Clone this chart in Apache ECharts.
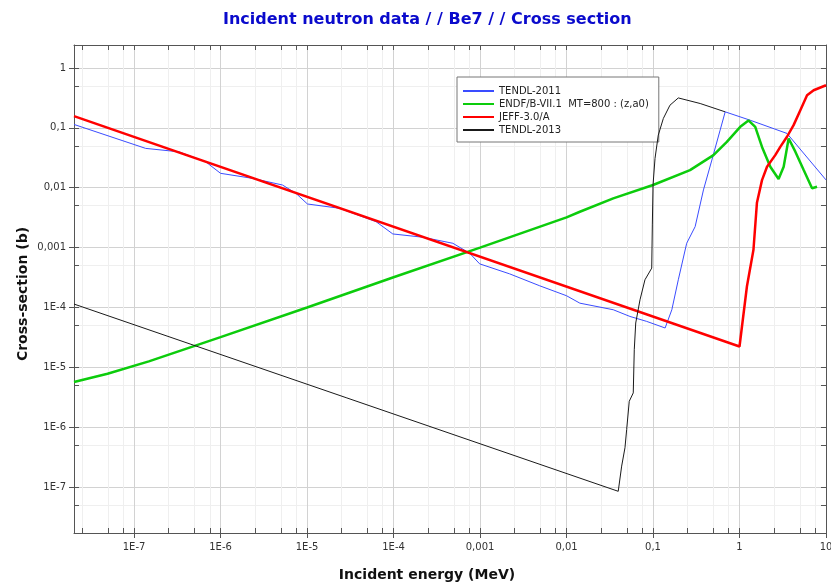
<!DOCTYPE html>
<html>
<head>
<meta charset="utf-8">
<script src="https://cdn.jsdelivr.net/npm/echarts@6/dist/echarts.min.js"></script>
<style>
  html, body { margin: 0; padding: 0; background: #ffffff; }
  #chart { width: 831px; height: 582px; }
</style>
</head>
<body>
<div id="chart"></div>
<script>
// Be-7 incident-neutron cross sections, energy in MeV, cross section in barns.

// TENDL-2011
const tendl2011E = [2.02e-8, 1.36e-7, 3.3e-7, 6.73e-7, 1.0e-6, 2.33e-6, 5.2e-6, 7.43e-6, 1.01e-5, 2.36e-5,
  6.28e-5, 9.8e-5, 2.18e-4, 4.85e-4, 7.58e-4, 9.9e-4, 2.2e-3, 4.9e-3, 0.01, 0.01426,
  0.0347, 0.0541, 0.0845, 0.138, 0.165, 0.196, 0.245, 0.307, 0.383, 0.479,
  0.597, 0.683, 1.33, 3.54, 10];
const tendl2011XS = [0.114, 0.0454, 0.0398, 0.0271, 0.0174, 0.01435, 0.0111, 0.00807, 0.00535, 0.00454,
  0.00271, 0.00169, 0.00149, 0.00118, 0.000807, 0.000535, 0.000364, 0.00023, 0.000157, 0.000118,
  9.16e-5, 7.08e-5, 5.85e-5, 4.54e-5, 9.16e-5, 2.9e-4, 1.18e-3, 2.24e-3, 9.2e-3, 0.029,
  0.0916, 0.185, 0.134, 0.0807, 0.0135];

// ENDF/B-VII.1, MT=800 (z,a0)
const endfE = [2.02e-8, 4.93e-8, 1.48e-7, 1e-6, 1e-5, 1e-4, 1e-3, 0.01, 0.01426, 0.0347,
  0.1, 0.268, 0.5, 0.714, 1.02, 1.27, 1.52, 1.82, 2.27, 2.83,
  3.24, 3.70, 4.42, 5.52, 6.9, 7.88];
const endfXS = [5.7e-6, 7.8e-6, 1.26e-5, 3.2e-5, 1.0e-4, 3.2e-4, 1.0e-3, 3.2e-3, 3.97e-3, 6.65e-3,
  0.0111, 0.0197, 0.035, 0.0585, 0.104, 0.133, 0.104, 0.048, 0.0224, 0.014,
  0.0224, 0.0665, 0.04, 0.0197, 0.0098, 0.0104];

// JEFF-3.0/A
const jeffE = [2.02e-8, 1.0, 1.218, 1.45, 1.59, 1.82, 2.08, 2.59, 2.96, 3.54,
  4.22, 5.05, 6.04, 7.2, 10];
const jeffXS = [0.157, 2.23e-5, 2.24e-4, 9.2e-4, 5.6e-3, 0.0134, 0.0224, 0.035, 0.048, 0.071,
  0.111, 0.197, 0.351, 0.425, 0.515];

// TENDL-2013
const tendl2013E = [2.02e-8, 0.0396, 0.0434, 0.0474, 0.0496, 0.0531, 0.0591, 0.0607, 0.0631, 0.0707,
  0.0807, 0.0966, 0.0982, 0.1, 0.1055, 0.115, 0.1316, 0.157, 0.196, 0.351, 0.683];
const tendl2013XS = [1.14e-4, 8.5e-8, 2.24e-7, 4.54e-7, 9.2e-7, 2.71e-6, 3.74e-6, 1.97e-5, 5.5e-5, 1.34e-4,
  2.9e-4, 4.54e-4, 2.39e-3, 0.0111, 0.0309, 0.0756, 0.1435, 0.239, 0.316, 0.255, 0.185];

// Axis ranges and tick labels
const X_MIN = 2.02e-8, X_MAX = 10;
const Y_MIN = 1.71e-8, Y_MAX = 2.42;
const xMajor = [1e-7, 1e-6, 1e-5, 1e-4, 1e-3, 1e-2, 1e-1, 1, 10];
const xMajorLabels = ['1E-7', '1E-6', '1E-5', '1E-4', '0,001', '0,01', '0,1', '1', '10'];
const xMinorMantissas = [2.5, 5, 7.5];
const yMajor = [1e-7, 1e-6, 1e-5, 1e-4, 1e-3, 1e-2, 1e-1, 1];
const yMajorLabels = ['1E-7', '1E-6', '1E-5', '1E-4', '0,001', '0,01', '0,1', '1'];
const yMinorMantissas = [5];

function minorTicks(mantissas, lo, hi) {
  const out = [];
  for (let e = Math.floor(Math.log10(lo)); e <= Math.ceil(Math.log10(hi)); e++) {
    mantissas.forEach(m => {
      const v = m * Math.pow(10, e);
      if (v >= lo && v <= hi) out.push(v);
    });
  }
  return out;
}
const xMinor = minorTicks(xMinorMantissas, X_MIN, X_MAX);
const yMinor = minorTicks(yMinorMantissas, Y_MIN, Y_MAX);

function labelFor(values, labels) {
  return function (v) {
    for (let i = 0; i < values.length; i++) {
      if (Math.abs(Math.log10(v) - Math.log10(values[i])) < 1e-6) return labels[i];
    }
    return '';
  };
}

function zip(a, b) { return a.map((v, i) => [v, b[i]]); }

const FONT = 'DejaVu Sans';
const AXIS_COLOR = '#555555';
const MAJOR_GRID = '#d2d2d2';
const MINOR_GRID = '#efefef';

function baseAxis(kind, gridIndex, position) {
  const isX = kind === 'x';
  return {
    type: 'log',
    logBase: 10,
    gridIndex: gridIndex,
    position: position,
    min: isX ? X_MIN : Y_MIN,
    max: isX ? X_MAX : Y_MAX,
    axisLine: { show: false, lineStyle: { color: AXIS_COLOR, width: 1 } },
    axisTick: { show: false },
    axisLabel: { show: false },
    splitLine: { show: false },
    minorTick: { show: false },
    minorSplitLine: { show: false }
  };
}

const xAxes = [];
const yAxes = [];

// grid 0, bottom: labels, outward ticks and major grid lines
const xMain = baseAxis('x', 0, 'bottom');
xMain.axisLine.show = true;
xMain.axisTick = { show: true, inside: false, length: 5, customValues: xMajor, lineStyle: { color: AXIS_COLOR } };
xMain.axisLabel = { show: true, customValues: xMajor, formatter: labelFor(xMajor, xMajorLabels),
  margin: 9, fontFamily: FONT, fontSize: 10, color: '#333333' };
xMain.splitLine = { show: true, lineStyle: { color: MAJOR_GRID, width: 1 } };
xMain.name = 'Incident energy (MeV)';
xMain.nameLocation = 'middle';
xMain.nameGap = 35;
xMain.nameTextStyle = { fontFamily: FONT, fontWeight: 'bold', fontSize: 14, color: '#111111', padding: [0, 46, 0, 0] };
xAxes.push(xMain);

// grid 0, top: frame line with inward ticks
const xTop = baseAxis('x', 0, 'top');
xTop.axisLine.show = true;
xTop.axisTick = { show: true, inside: true, length: 5, customValues: xMajor.concat(xMinor), lineStyle: { color: AXIS_COLOR } };
xAxes.push(xTop);

// grid 1, bottom: inward ticks
const xInner = baseAxis('x', 1, 'bottom');
xInner.axisTick = { show: true, inside: true, length: 5, customValues: xMajor.concat(xMinor), lineStyle: { color: AXIS_COLOR } };
xAxes.push(xInner);

// grid 1, top: minor grid lines
const xMinorGrid = baseAxis('x', 1, 'top');
xMinorGrid.axisTick = { show: false, customValues: xMinor };
xMinorGrid.splitLine = { show: true, lineStyle: { color: MINOR_GRID, width: 1 } };
xAxes.push(xMinorGrid);

// grid 0, left: labels, outward ticks and major grid lines
const yMain = baseAxis('y', 0, 'left');
yMain.axisLine.show = true;
yMain.axisTick = { show: true, inside: false, length: 5, customValues: yMajor, lineStyle: { color: AXIS_COLOR } };
yMain.axisLabel = { show: true, customValues: yMajor, formatter: labelFor(yMajor, yMajorLabels),
  margin: 8, fontFamily: FONT, fontSize: 10, color: '#333333' };
yMain.splitLine = { show: true, lineStyle: { color: MAJOR_GRID, width: 1 } };
yMain.name = 'Cross-section (b)';
yMain.nameLocation = 'middle';
yMain.nameGap = 44;
yMain.nameMoveOverlap = false;
yMain.nameRotate = 90;
yMain.nameTextStyle = { fontFamily: FONT, fontWeight: 'bold', fontSize: 14, color: '#111111', padding: [0, 10, 0, 0] };
yAxes.push(yMain);

// grid 0, right: frame line with inward ticks
const yRight = baseAxis('y', 0, 'right');
yRight.axisLine.show = true;
yRight.axisTick = { show: true, inside: true, length: 5, customValues: yMajor.concat(yMinor), lineStyle: { color: AXIS_COLOR } };
yAxes.push(yRight);

// grid 1, left: inward ticks
const yInner = baseAxis('y', 1, 'left');
yInner.axisTick = { show: true, inside: true, length: 5, customValues: yMajor.concat(yMinor), lineStyle: { color: AXIS_COLOR } };
yAxes.push(yInner);

// grid 1, right: minor grid lines
const yMinorGrid = baseAxis('y', 1, 'right');
yMinorGrid.axisTick = { show: false, customValues: yMinor };
yMinorGrid.splitLine = { show: true, lineStyle: { color: MINOR_GRID, width: 1 } };
yAxes.push(yMinorGrid);

const gridBox = { left: 74, right: 5, top: 45, bottom: 49, containLabel: false, outerBoundsMode: 'none' };

function lineSeries(name, data, color, width, z) {
  return {
    name: name,
    type: 'line',
    xAxisIndex: 0,
    yAxisIndex: 0,
    data: data,
    showSymbol: false,
    symbol: 'none',
    smooth: false,
    clip: true,
    z: z,
    lineStyle: { color: color, width: width },
    itemStyle: { color: color }
  };
}

const chart = echarts.init(document.getElementById('chart'), null, { renderer: 'canvas' });
chart.setOption({
  animation: false,
  backgroundColor: '#ffffff',
  title: {
    text: 'Incident neutron data / / Be7 / / Cross section',
    left: 218,
    top: 7,
    textStyle: { fontFamily: FONT, fontWeight: 'bold', fontSize: 16, color: '#0a0acc' }
  },
  legend: {
    orient: 'vertical',
    left: 457,
    top: 77,
    padding: [9, 10, 7, 5],
    itemGap: 3,
    itemWidth: 31,
    itemHeight: 10,
    backgroundColor: '#ffffff',
    borderColor: '#777777',
    borderWidth: 1,
    itemStyle: { opacity: 0 },
    textStyle: { fontFamily: FONT, fontSize: 10, color: '#222222' },
    data: ['TENDL-2011', 'ENDF/B-VII.1  MT=800 : (z,a0)', 'JEFF-3.0/A', 'TENDL-2013']
  },
  grid: [Object.assign({}, gridBox), Object.assign({}, gridBox)],
  xAxis: xAxes,
  yAxis: yAxes,
  series: [
    lineSeries('TENDL-2011', zip(tendl2011E, tendl2011XS), '#3a4cff', 1, 3),
    lineSeries('ENDF/B-VII.1  MT=800 : (z,a0)', zip(endfE, endfXS), '#0ccc0c', 2.5, 4),
    lineSeries('JEFF-3.0/A', zip(jeffE, jeffXS), '#ff0000', 2.5, 5),
    lineSeries('TENDL-2013', zip(tendl2013E, tendl2013XS), '#1a1a1a', 1, 6)
  ]
});
</script>
</body>
</html>
